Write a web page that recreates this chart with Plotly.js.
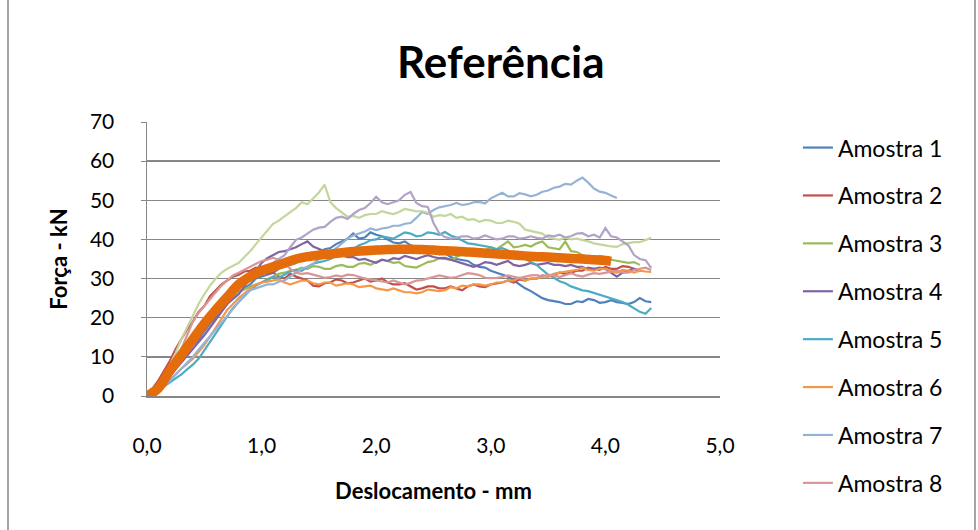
<!DOCTYPE html>
<html>
<head>
<meta charset="utf-8">
<script src="https://cdn.plot.ly/plotly-3.0.1.min.js"></script>
<style>html,body{margin:0;padding:0;background:#fff;}#chart{width:978px;height:530px;}</style>
</head>
<body>
<div id="chart"></div>
<script>
// Deslocamento (mm) grid shared by the samples
const desloc = [0,0.05,0.1,0.15,0.2,0.25,0.3,0.35,0.4,0.45,0.5,0.55,0.6,0.65,0.7,0.75,0.8,0.85,0.9,0.95,
  1.0,1.05,1.1,1.15,1.2,1.25,1.3,1.35,1.4,1.45,1.5,1.55,1.6,1.65,1.7,1.75,1.8,1.85,1.9,1.95,
  2.0,2.05,2.1,2.15,2.2,2.25,2.3,2.35,2.4,2.45,2.5,2.55,2.6,2.65,2.7,2.75,2.8,2.85,2.9,2.95,
  3.0,3.05,3.1,3.15,3.2,3.25,3.3,3.35,3.4,3.45,3.5,3.55,3.6,3.65,3.7,3.75,3.8,3.85,3.9,3.95,
  4.0,4.05,4.1,4.15,4.2,4.25,4.3,4.35,4.4];
// coarser grid for the mean curve
const deslocMedia = [0,0.1,0.2,0.3,0.4,0.5,0.6,0.7,0.8,0.9,1.0,1.1,1.2,1.3,1.4,1.5,1.6,1.7,1.8,1.9,2.0,2.1,2.2,2.3,2.4,2.5,2.6,2.7,2.8,2.9,3.0,3.1,3.2,3.3,3.4,3.5,3.6,3.7,3.8,3.9,4.0,4.05];

const seriesNames = ["Amostra 1","Amostra 2","Amostra 3","Amostra 4","Amostra 5","Amostra 6","Amostra 7","Amostra 8","Amostra 9","Amostra 10"];

const amostra1 = [0,1.2,2.5,4.5,6,7.5,9.5,11.5,13,14.5, 16.5,18.5,20,22,23.5,25.5,26.5,27.5,28.5,30, 30.5,30.8,31.5,32.5,33,33.5,34,35.2,35.5,35.8, 36.5,37.5,37.8,38.8,39.5,40.2,41.5,40.2,40.5,41.8, 41.2,40.8,40,39.2,39,39.5,38.5,38,37.5,37.8, 37,36.2,36.5,35.5,35,34.8,34.5,33.5,33,32.8, 32,31.5,31,30.5,29.5,28.5,27.5,26.8,26,25, 24.5,24.2,24,23.5,23.5,24.2,24,24.8,24.5,23.8, 24,24.5,24,23.8,23.5,24,25,24.2,24];
const amostra2 = [0,2,4,6.5,9,12,14.5,17,19,21.5, 23,25.5,27,28.5,29.5,30.5,31,31.8,32,32.8, 32.5,31.2,31.5,30.5,30,31.2,30.5,30,29.5,28.2, 28,28.8,29,29.8,29.5,28.8,29,29.5,30,29.2, 29.5,30,29,28.5,28.5,28.8,28,27.2,27.5,28, 28,27.5,27.5,28,27.5,27,28,28.5,28,27.8, 28.5,28.8,29,29.5,29,29.8,29.5,30,30,30.8, 30.5,31,31.5,31.2,31.5,32,32,32.8,32.5,32.2, 33,32.5,32.5,33.2,33,32.5,32];
const amostra3 = [0,1.2,2.5,4.5,6.5,8.5,10.5,12.5,14.5,16.2, 18,19.8,21.5,23,24.5,25.5,26.5,27.2,28,28.5, 29,29.8,30.5,31.2,31.5,32,32.2,32.8,32.5,33.2, 33,32.5,32.5,33.2,33.5,33,33,33.8,34,33.5, 34.2,34.8,34.5,34,34.2,33.2,33,32.8,33.5,34.2, 34.5,35.2,35,34.8,35.5,36.2,36.5,36.8,37.5,37.2, 38,37.5,38.5,39.5,38,38.2,38.6,38.2,39,39.5, 38,37.8,37.5,39.5,37,36.8,36,35.5,35.3,35.8, 35.5,34.8,34.5,34.2,34,34.2,33.5];
const amostra4 = [0,1,2,3.5,5,6.8,8.5,10.2,12,13.8, 15.5,17.5,19.5,21.5,23.5,24.8,26,28,30,32.2, 34,35.2,36,36.8,37,37.5,38,38.8,39.5,38.2, 37.5,37,36.5,36.2,36,35.5,35.5,34.8,35,34.5, 34,34.8,34.5,35.2,35,35.8,35.3,35,35.5,36, 35.5,35.2,35.3,34.8,34.5,33.8,33.5,33,33.5,34.2, 34,33.5,34,34.5,33.5,33.2,33.5,34,33.5,33.8, 34,33.5,33.5,33.2,33.5,33,33,32.2,32.5,32.8, 32.5,31.5,30.5,31.5,32,32.5,32];
const amostra5 = [0,0.8,1.5,2.5,3.5,4.5,5.5,6.8,8,9.5, 11.5,13.8,16,18.2,20.5,22.5,24,25.5,27,28.2, 29,29.8,30.4,30.2,31,31.8,32.2,32,33,33.8, 34.2,34.5,35,35.8,36.5,36.8,37.5,38.5,39,39.8, 40,40.8,40.5,40.2,41,41.8,41.5,40.8,41,41.8, 41.6,41.2,41.9,41,40.5,39.8,39,38.8,38.5,38.2, 38,37.5,37.8,37.2,36.5,35.8,35,34.2,33.5,32.2, 31,30.2,29.3,28.8,28,27.5,27,26.8,26.3,25.8, 25.5,25,24.5,24,23.3,22.5,21.5,21,22.5];
const amostra6 = [0,0.8,1.5,2.8,4,5.5,7,8.2,9.5,11.2, 13,15.2,17.5,19.8,22,23.5,25,26.2,27.5,28.5, 29,29.2,29.5,29.8,29,28.5,29,29.5,29.5,28.8, 28.5,29,29,28.2,28.5,28.8,28.5,27.8,28,28.2, 27.5,27.2,27,27.5,27,26.5,26.5,26.2,26.5,27.2, 27,26.8,27,27.8,27.5,28.2,28,28.5,28.5,28.2, 28.5,29,29,29.5,29.5,30.2,29.5,30,30,30.5, 30.5,31.2,31.5,31.8,32,32.2,32.7,32.2,32,32.5, 32.5,32,31.5,32.2,32,31.5,32,31.8,31.7];
const amostra7 = [0,0.8,1.5,2.8,4,5.5,7,8.5,10,11.8, 13.5,15.2,17,18.8,20.5,22.2,24,25.8,27,27.5, 28,28.5,28.5,29.2,29.5,30.5,31.5,32.5,33,33.8, 35,35.5,36.5,37.8,39,40.2,41,41.5,42,42.8, 42.4,42.8,43,43.5,43.5,44,44.2,45.5,47,46.5, 47.5,48.2,48.5,48.8,49.3,48.8,49,49.5,49.6,49.2, 50.5,51.2,51.9,51,51,51.8,51.5,51,51.4,52.2, 52.5,53.2,53.5,54.2,54,55,55.8,54.5,53,52.2, 51.9,51.2,50.6];
const amostra8 = [0,1.5,3,5,7.5,9.8,12,15.5,19,21.2, 23,25,26.5,28.2,29.5,30.8,31.5,32.2,33,33.8, 34.5,34.8,35.3,34.8,34,32.5,31.5,31.2,31.4,31, 30.5,30.2,30.4,30.8,30.5,31,30.9,30.5,30,29.8, 29.5,29.2,29,29.5,29,28.5,28.9,29.5,29.6,30, 30.4,30.8,30.5,30.2,30.4,31,31.4,31.2,30.9,30.2, 30.1,30.2,30.4,30.8,30.4,30.1,30.5,30.8,30.9,30.5, 31,30.8,30.4,31,31.4,30.8,30.5,31,31.4,31.2, 31.5,31.8,32,31.5,31.5,32.2,32.5,32.8,32.2];
const amostra9 = [0,1.5,3,5.5,8,11,14.5,17.5,20.5,23.5, 26,28.2,30,31.5,32.5,33.2,34,35.5,37,38.8, 40.5,42.2,44,44.8,46,47,48,49.5,49,50.5, 52,54,49.5,48,46.8,45.8,46,45.5,46.2,46.5, 46.5,47.2,46.8,46.5,47,47.8,47.5,47.2,47.2,46.8, 45.8,46.2,46,46.5,45.5,45.8,45,45.2,44.5,45, 44.8,44.2,44.2,44.8,44.5,44,42.5,42.2,41.9,41.5, 40.5,40.2,39.9,40.5,40,40.2,39.9,39.5,39,38.8, 38.5,38.2,38.1,38.8,39,39.3,39.3,39.8,40.4];
const amostra10 = [0,1.2,2.5,4.2,6,8,10,12,14,16, 18,20,22,23.8,25.5,27,28,29,30,31, 32,33,34,35,36,38,39.9,40.5,41.5,42.5, 43,43.2,44.5,45.5,45.8,45.2,46.5,47.5,48,49.3, 50.9,49.5,49,49.6,50,51.4,52.1,49.3,48.5,48.3, 44.2,41.6,40.6,40.2,40.4,40.8,40.8,40.2,40.4,41, 40.5,40,40.2,40.8,40.8,40.2,40.4,40.8,40.4,40.2, 41,40.8,41.2,40.5,40.8,41.5,41.6,40.8,41.2,40.5, 42.9,40.8,40.5,39.5,38.5,36,35,34.7,32.7];
const media = [0,2,6.5,10.5,14.5,18.5,22,25.3,28.5,30.5,32,33,34,35,35.6,36,36.3,36.6,36.9,37.1,37.3,37.4,37.5,37.5,37.4,37.3,37.1,37,36.8,36.6,36.4,36.2,36,35.8,35.6,35.5,35.3,35.1,35,34.8,34.6,34.4];

const xTicks = [0,1,2,3,4,5];
const yTicks = [0,10,20,30,40,50,60,70];

const colors = ["#4F81BD","#C0504D","#9BBB59","#8064A2","#4BACC6","#F79646","#95B3D7","#D99694","#C3D69B","#B3A2C7"];
const allY = [amostra1,amostra2,amostra3,amostra4,amostra5,amostra6,amostra7,amostra8,amostra9,amostra10];

const traces = allY.map((ys,i)=>({
  type:'scatter', mode:'lines', name:seriesNames[i],
  x: desloc.slice(0, ys.length), y: ys,
  line:{color:colors[i], width:2.2},
  showlegend: i < 8, legendgroup:'g'+i
}));
traces.push({type:'scatter', mode:'lines', name:'Média',
  x: deslocMedia, y: media,
  line:{color:'#E46C0A', width:9.5, shape:'spline'}, showlegend:false});

const FONT = 'Lato, "Open Sans", sans-serif';
const grid = '#878787';

const layout = {
  width:978, height:530,
  margin:{l:147, r:258, t:122, b:134},
  paper_bgcolor:'#fff', plot_bgcolor:'#fff',
  separators:',.',
  font:{family:FONT, color:'#000', size:21},
  title:{text:'<b>Referência</b>', font:{family:FONT, size:44, color:'#000'}, x:0.512, xref:'container', xanchor:'center', y:0.882, yref:'container', yanchor:'middle'},
  xaxis:{range:[0,5], tickvals:xTicks, tickformat:'.1f', showgrid:false, zeroline:false,
    showline:true, linecolor:grid, linewidth:1.5, ticks:'',
    ticklabelstandoff:30, tickfont:{size:21},
    title:{text:'<b>Deslocamento - mm</b>', font:{size:22}, standoff:28}},
  yaxis:{range:[0,70], tickvals:yTicks, showgrid:true, gridcolor:grid, gridwidth:1.5, zeroline:false,
    showline:true, linecolor:grid, linewidth:1.5, ticks:'outside', ticklen:5, tickcolor:grid,
    ticklabelstandoff:22, tickfont:{size:21},
    title:{text:'<b>Força - kN</b>', font:{size:22}, standoff:16}},
  legend:{x:1.136, xanchor:'left', y:0.985, yanchor:'top', font:{size:23}, tracegroupgap:15,
    maxheight:520, bgcolor:'rgba(0,0,0,0)', traceorder:'grouped'},
  shapes:[
    {type:'line', xref:'paper', yref:'paper', x0:-0.2426, x1:-0.2426, y0:-0.5, y1:1.5, line:{color:'#868686', width:1.5}},
    {type:'line', xref:'paper', yref:'paper', x0:1.445, x1:1.445, y0:-0.5, y1:1.5, line:{color:'#868686', width:1.5}}
  ]
};

Plotly.newPlot('chart', traces, layout, {displayModeBar:false, staticPlot:true});
</script>
</body>
</html>
